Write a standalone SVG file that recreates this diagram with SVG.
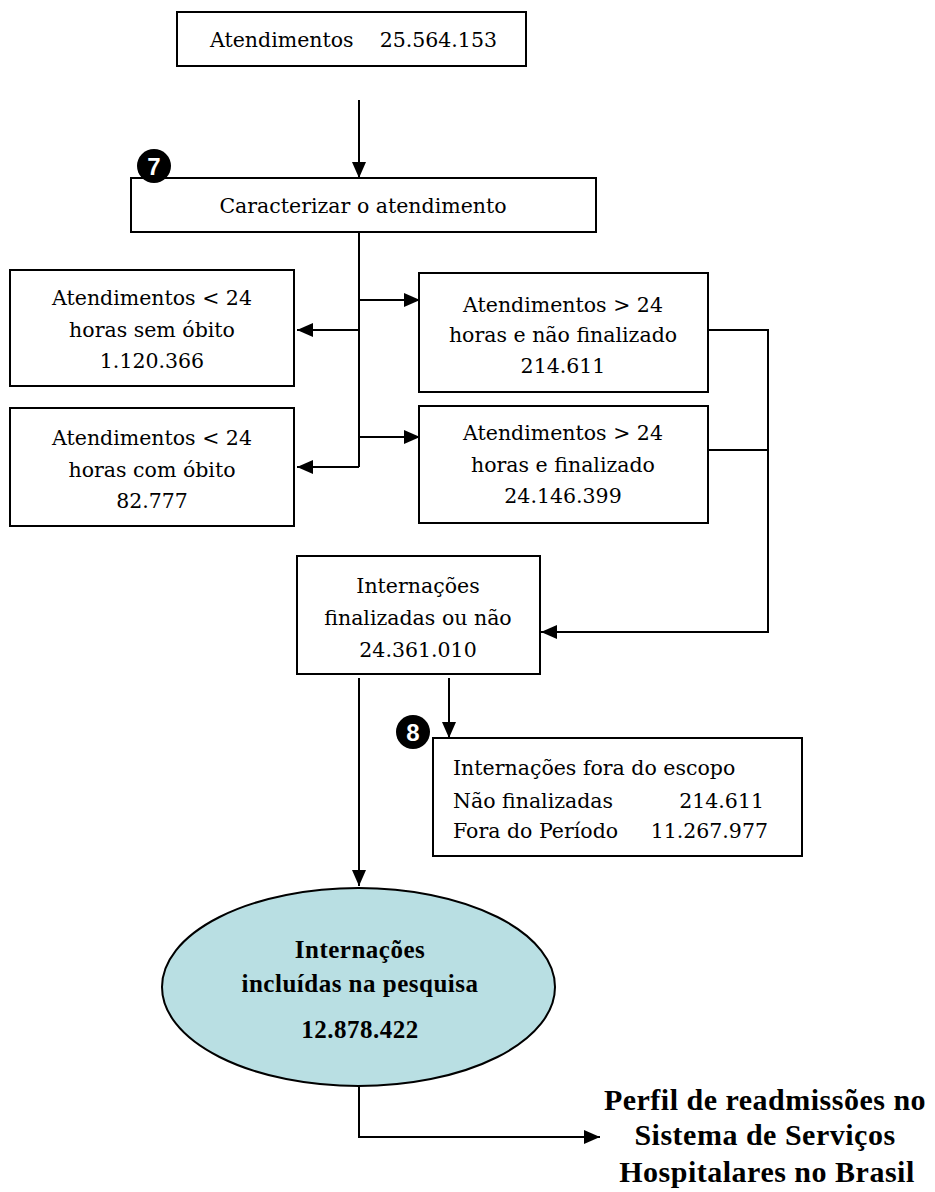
<svg xmlns="http://www.w3.org/2000/svg" width="935" height="1192" viewBox="0 0 935 1192">
<style>
.box{fill:#fff;stroke:#000;stroke-width:2}
.t{font-family:"DejaVu Serif","Liberation Serif",serif;font-size:20.5px;fill:#000}
.c{text-anchor:middle}
.b{font-family:"Liberation Serif","Times New Roman",serif;font-weight:bold;fill:#000;text-anchor:middle}
.ln{fill:none;stroke:#000;stroke-width:2}
.badge{fill:#000}
.bn{font-family:"Liberation Sans",Arial,sans-serif;font-weight:bold;font-size:24px;fill:#fff;text-anchor:middle}
</style>
<defs>
<marker id="ah" markerUnits="userSpaceOnUse" markerWidth="16" markerHeight="14" refX="16" refY="7" orient="auto">
<path d="M0,0 L16,7 L0,14 z" fill="#000"/>
</marker>
</defs>
<rect width="935" height="1192" fill="#fff"/>
<g id="connectors">
<path class="ln" d="M359,100 V178" marker-end="url(#ah)"/>
<path class="ln" d="M359,232 V467"/>
<path class="ln" d="M359,330 H297" marker-end="url(#ah)"/>
<path class="ln" d="M359,467 H297" marker-end="url(#ah)"/>
<path class="ln" d="M359,300 H420" marker-end="url(#ah)"/>
<path class="ln" d="M359,437 H420" marker-end="url(#ah)"/>
<path class="ln" d="M706,330 H768 V632 H541" marker-end="url(#ah)"/>
<path class="ln" d="M706,450 H768"/>
<path class="ln" d="M359,678 V886" marker-end="url(#ah)"/>
<path class="ln" d="M449,678 V738" marker-end="url(#ah)"/>
<path class="ln" d="M359,1086 V1137 H600" marker-end="url(#ah)"/>
</g>
<g id="n-atendimentos">
<rect class="box" x="177" y="12" width="349" height="54"/>
<text class="t" x="210" y="47">Atendimentos</text>
<text class="t" x="497" y="47" text-anchor="end">25.564.153</text>
</g>
<g id="n-caracterizar">
<rect class="box" x="131" y="178" width="465" height="54"/>
<text class="t c" x="363" y="213">Caracterizar o atendimento</text>
</g>
<g id="badge-7">
<circle class="badge" cx="154" cy="166" r="17"/>
<text class="bn" x="154" y="175">7</text>
</g>
<g id="n-menor24-sem">
<rect class="box" x="10" y="270" width="284" height="116"/>
<text class="t c" x="152" y="305">Atendimentos &lt; 24</text>
<text class="t c" x="152" y="337">horas sem óbito</text>
<text class="t c" x="152" y="368">1.120.366</text>
</g>
<g id="n-menor24-com">
<rect class="box" x="10" y="408" width="284" height="118"/>
<text class="t c" x="152" y="445">Atendimentos &lt; 24</text>
<text class="t c" x="152" y="477">horas com óbito</text>
<text class="t c" x="152" y="508">82.777</text>
</g>
<g id="n-maior24-nao">
<rect class="box" x="419" y="273" width="289" height="119"/>
<text class="t c" x="563" y="312">Atendimentos &gt; 24</text>
<text class="t c" x="563" y="342">horas e não finalizado</text>
<text class="t c" x="563" y="373">214.611</text>
</g>
<g id="n-maior24-fin">
<rect class="box" x="419" y="406" width="289" height="117"/>
<text class="t c" x="563" y="440">Atendimentos &gt; 24</text>
<text class="t c" x="563" y="472">horas e finalizado</text>
<text class="t c" x="563" y="503">24.146.399</text>
</g>
<g id="n-internacoes">
<rect class="box" x="297" y="556" width="243" height="118"/>
<text class="t c" x="418" y="593">Internações</text>
<text class="t c" x="418" y="625">finalizadas ou não</text>
<text class="t c" x="418" y="657">24.361.010</text>
</g>
<g id="badge-8">
<circle class="badge" cx="413" cy="732" r="17"/>
<text class="bn" x="413" y="741">8</text>
</g>
<g id="n-fora">
<rect class="box" x="433" y="738" width="369" height="118"/>
<text class="t" x="453" y="775">Internações fora do escopo</text>
<text class="t" x="453" y="808">Não finalizadas</text>
<text class="t" x="764" y="808" text-anchor="end">214.611</text>
<text class="t" x="453" y="838">Fora do Período</text>
<text class="t" x="768" y="838" text-anchor="end">11.267.977</text>
</g>
<g id="n-incluidas">
<ellipse cx="358.5" cy="987" rx="196.5" ry="99" fill="#B9DFE3" stroke="#000" stroke-width="2"/>
<text class="b" x="360" y="958" font-size="25" letter-spacing="0.5">Internações</text>
<text class="b" x="360" y="992" font-size="25" letter-spacing="0.5">incluídas na pesquisa</text>
<text class="b" x="360" y="1038" font-size="25" letter-spacing="0.5">12.878.422</text>
</g>
<g id="n-perfil">
<text class="b" x="765" y="1110" font-size="30" letter-spacing="0.5">Perfil de readmissões no</text>
<text class="b" x="765" y="1145" font-size="30" letter-spacing="0.5">Sistema de Serviços</text>
<text class="b" x="767" y="1182" font-size="30" letter-spacing="0.5">Hospitalares no Brasil</text>
</g>
</svg>
